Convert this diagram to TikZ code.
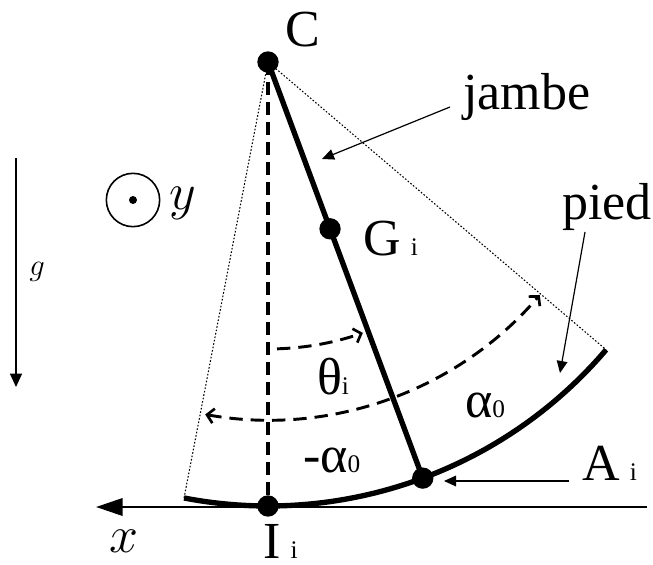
\RequirePackage{fix-cm}
\documentclass[tikz,border=0pt]{standalone}
\usepackage{fontspec}
\setmainfont{Liberation Serif}
\usetikzlibrary{positioning,arrows.meta,calc}
\newcommand{\lowidx}[2][0.2em]{\hspace{#1}{\fontsize{19}{19}\selectfont #2}}
\tikzset{
    base/.style={inner sep=0pt, outer sep=0pt},
    tag/.style={base, font=\fontsize{39}{40}\selectfont},
    mathtag/.style={base, font=\fontsize{39}{40}\selectfont},
    point/.style={base, circle, fill=black, minimum size=16pt},
    limb/.style={line width=4pt},
    guide/.style={line width=0.8pt, dash pattern=on 1.2pt off 1.4pt},
    vertical/.style={line width=2.6pt, dash pattern=on 10pt off 5pt},
    sweep/.style={line width=2.2pt, dash pattern=on 10pt off 6pt},
    barb/.tip={Straight Barb[length=5pt, width=11pt, line width=2pt]},
    flow/.style={-{Triangle[length=9pt, width=8pt]}, line width=0.9pt},
    axis/.style={-{Triangle[length=20pt, width=13pt]}, line width=2pt}
}

\begin{document}
\begin{tikzpicture}[x=0.75pt, y=0.75pt]
  \useasboundingbox (0,0) rectangle (653,564);
  % pivot, leg and foot
  \node[point] (C) at (268,502) {};
  \node[point] (G) at ($(C.center)+(-69.6:178)$) {};
  \node[point] (A) at ($(C.center)+(-69.6:444)$) {};
  \node[point] (I) at ($(C.center)+(-90:444)$) {};
  \coordinate (heel) at ($(C.center)+(-100.9:444)$);
  \coordinate (toe) at ($(C.center)+(-40.4:444)$);
  \draw[guide] (heel) -- (C.center) -- (toe);
  \draw[vertical] (C.center) -- (I.center);
  \draw[limb] (C.center) -- (A.center);
  \draw[limb] (heel) arc[start angle=-100.9, end angle=-40.4, radius=444];
  % angles
  \draw[sweep, -barb] ($(C.center)+(-88.2:287)$) arc[start angle=-88.2, end angle=-70.7, radius=287];
  \draw[sweep, barb-barb] ($(C.center)+(-100.1:358)$) arc[start angle=-100.1, end angle=-40.6, radius=358];
  % ground and axes
  \coordinate (ground) at (647,57);
  \coordinate (xend) at (96,57);
  \draw[axis] (ground) -- (xend);
  \node[base, circle, draw, line width=1.2pt, minimum size=40pt] (yaxis) at (133,364) {};
  \node[point, minimum size=6pt] (ydot) at (yaxis.center) {};
  \coordinate (gtop) at (16,406);
  \coordinate (gbot) at (16,177);
  \draw[flow, -{Triangle[length=10pt, width=9pt]}] (gtop) -- (gbot);
  \node[base, font=\fontsize{23}{23}\selectfont] (g) at (37,292) {$g$};
  % labels
  \node[tag, anchor=base west] (Clab) at (285,517) {C};
  \node[tag, anchor=base west] (jambe) at (463,454) {jambe};
  \node[tag, anchor=base west] (pied) at (562,344) {pied};
  \node[tag, anchor=base west] (Glab) at (363,308) {G\lowidx{i}};
  \node[tag, anchor=base west] (theta) at (317,169) {θ\lowidx[0pt]{i}};
  \node[tag, anchor=base west] (alpha) at (465,146) {α\lowidx[0pt]{0}};
  \node[tag, anchor=base west] (malpha) at (303,91) {-α\lowidx[0pt]{0}};
  \node[tag, anchor=base west] (Alab) at (582,83) {A\lowidx{i}};
  \node[tag, anchor=base west] (Ilab) at (263,6) {I\lowidx{i}};
  \node[mathtag, anchor=base west] (xlab) at (109,12) {$x$};
  \node[mathtag, anchor=base west] (ylab) at (169,354) {$y$};
  % pointers
  \coordinate (legpoint) at (322,405);
  \coordinate (footpoint) at (560,191);
  \coordinate (contact) at (444,83);
  \draw[flow] ($(jambe.base west)+(-13,3)$) -- (legpoint);
  \draw[flow] ($(pied.base west)+(23,-12)$) -- (footpoint);
  \draw[flow] ($(Alab.base west)+(-13,0)$) -- (contact);
\end{tikzpicture}
\end{document}
